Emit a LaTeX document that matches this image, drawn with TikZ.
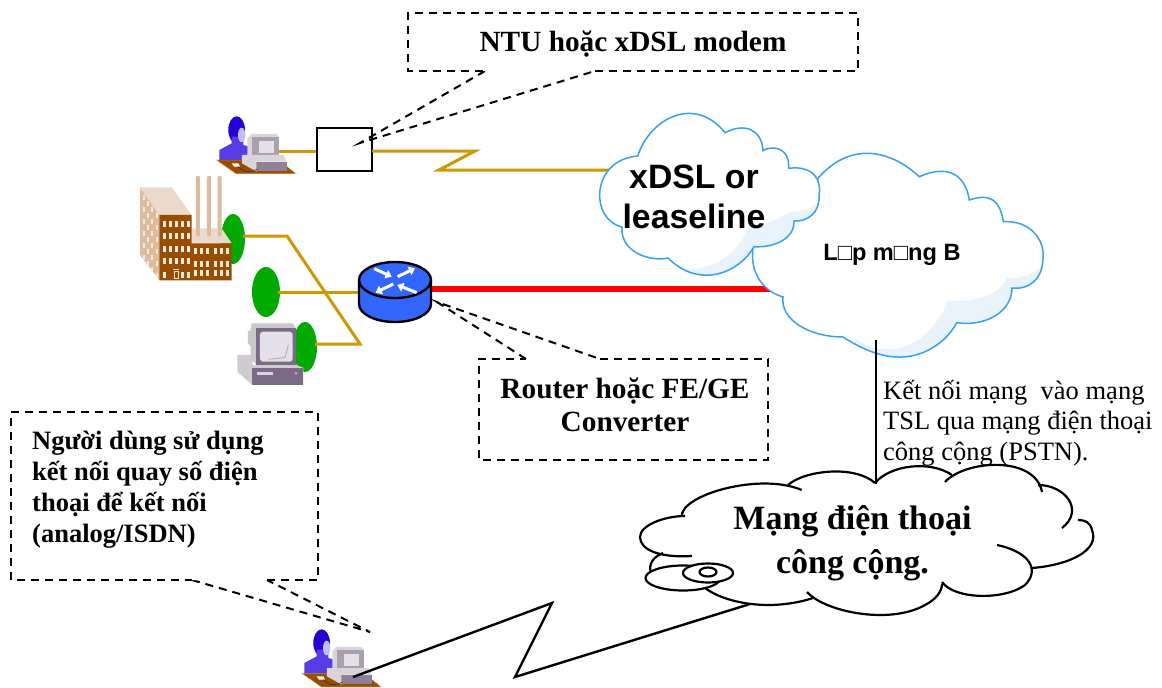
\documentclass[tikz,border=0pt]{standalone}
\usepackage{fontspec}
\setmainfont{Liberation Serif}
\newfontfamily\arialf{Liberation Sans}
\usetikzlibrary{arrows.meta,shapes.geometric}
\definecolor{goldline}{HTML}{CC9900}
\definecolor{cloudblue}{HTML}{33A1F5}
\definecolor{cloudshade}{HTML}{E8F3FB}
\definecolor{greenblob}{HTML}{00AA00}
\definecolor{routerblue}{HTML}{3366FF}
\definecolor{deskbrown}{HTML}{994D00}
\definecolor{tanlight}{HTML}{EBDACB}
\definecolor{tandark}{HTML}{DDBB9E}
\definecolor{cream}{HTML}{F3E8DA}
\definecolor{pcdark}{HTML}{7A6A85}
\definecolor{pcmid}{HTML}{A8A0AC}
\definecolor{pclight}{HTML}{D8D4DA}
\definecolor{pcscreen}{HTML}{E4E0E8}
\tikzset{
  goldwire/.style={goldline,line width=3pt,line join=miter},
  calloutbox/.style={draw=black,fill=white,line width=2pt,dash pattern=on 8pt off 6pt},
  cloudedge/.style={draw=cloudblue,line width=1.5pt},
  phonearc/.style={draw=black,line width=2.2pt},
  blackwire/.style={black,line width=2.4pt},
  greenblob/.style={fill=greenblob,draw=none,ellipse,inner sep=0pt},
  notebold/.style={font=\bfseries\fontsize{29.3}{33}\selectfont,align=center,inner sep=0pt},
  pics/usericon/.style={code={
    \begin{scope}[x=0.3333pt,y=-0.3333pt]
      \fill[deskbrown,draw=tanlight,line width=.5pt] (258,180)--(345,180)--(470,198)--(500,222)--(318,222)--cycle;
      \fill[black!0!blue!70!violet] (320,90) ellipse [x radius=25,y radius=41];
      \fill[blue!70!white!80!violet] (268,180)--(268,150)--(305,130)--(305,110)--(340,110)--(340,135)--(358,140)--(358,180)--cycle;
      \fill[blue!25!white] (335,105) ellipse [x radius=11,y radius=22];
      \fill[pclight] (365,102)--(440,102)--(446,112)--(446,170)--(352,170)--(352,115)--cycle;
      \fill[pcmid] (366,112)--(446,112)--(446,166)--(366,166)--cycle;
      \fill[pcscreen] (388,122)--(432,122)--(432,160)--(388,160)--cycle;
      \fill[pclight] (336,165)--(460,165)--(470,185)--(380,185)--(380,215)--(336,190)--cycle;
      \fill[pcdark!85!white] (380,185)--(470,185)--(470,214)--(380,214)--cycle;
      \fill[white] (305,190)--(325,190)--(330,200)--(312,200)--cycle;
      \draw[black!80,line width=.6pt] (325,200) .. controls (345,222) and (370,215) .. (383,207);
    \end{scope}}},
  pics/factoryicon/.style={code={
    \begin{scope}[x=0.3333pt,y=-0.3333pt]
      \fill[tandark] (30,262)--(88,345)--(88,540)--(30,465)--cycle;
      \foreach \c in {0,1,2,3}{\foreach \r in {0,...,5}{
        \fill[cream] ({38+\c*13},{285+\c*18+\r*36}) rectangle ++(6,16);}}
      \fill[tanlight] (30,262)--(125,262)--(185,345)--(88,345)--cycle;
      \fill[tanlight] (185,385)--(275,385)--(305,430)--(185,430)--cycle;
      \foreach \c in {198,231,263}{
        \fill[tandark,rounded corners=2pt] (\c,227) rectangle ++(12,183);}
      \fill[deskbrown] (88,345)--(185,345)--(185,430)--(305,430)--(305,541)--(88,541)--cycle;
      \foreach \c in {98,116,134,152,170}{\foreach \r in {363,400,438,475}{
        \fill[cream] (\c,\r) rectangle ++(9,18);}}
      \foreach \c in {98,152,170}{\fill[cream] (\c,515) rectangle ++(9,18);}
      \draw[cream,line width=.8pt] (130,509)--(146,509) (132,514) rectangle (144,536);
      \foreach \c in {192,210,228,253,271,289}{\foreach \r in {444,482,510}{
        \fill[cream] (\c,\r) rectangle ++(9,18);}}
    \end{scope}}},
  pics/desktopicon/.style={code={
    \begin{scope}[x=0.3333pt,y=-0.3333pt]
      \fill[pclight!90!gray] (322,765)--(368,765)--(368,795)--(500,795)--(520,803)--(520,855)--(367,855)--(322,815)--cycle;
      \fill[pcdark] (367,803)--(520,803)--(520,855)--(367,855)--cycle;
      \fill[pclight] (382,817) rectangle (430,825);
      \fill[pclight] (498,820) circle (3.5);
      \fill[pclight!85!gray] (365,670)--(488,670)--(498,685)--(380,685)--(380,795)--(362,775)--(362,740)--(354,730)--(354,695)--(362,690)--cycle;
      \fill[pcdark] (378,685) rectangle (499,796);
      \fill[pcscreen,rounded corners=3pt] (390,695) rectangle (488,785);
      \draw[pcdark!60!white,line width=.8pt] (415,778)--(465,773)--(475,735);
    \end{scope}}},
  pics/routerarrows/.style={code={
    \begin{scope}[x=0.3333pt,y=-0.3333pt]
      \draw[white,line width=3pt,-{Triangle[length=6pt,width=9pt]}] (733,506)--(785,530);
      \draw[white,line width=3pt,-{Triangle[length=6pt,width=9pt]}] (803,530)--(855,505);
      \draw[white,line width=3pt,-{Triangle[length=6pt,width=9pt]}] (790,552)--(737,578);
      \draw[white,line width=3pt,-{Triangle[length=6pt,width=9pt]}] (860,578)--(802,555);
    \end{scope}}}
}
\begin{document}
\begin{tikzpicture}[x=1pt,y=-1pt]
\useasboundingbox (0,0) rectangle (1162,688);
\fill[white] (0,0) rectangle (1162,688);

% named anchors of the devices
\node[draw=black,fill=white,line width=2pt,minimum width=55pt,minimum height=43pt,inner sep=0pt] (ntubox) at (344.5,149.5) {};
\coordinate (pcone) at (278,151);
\coordinate (ntuout) at (372,151);
\coordinate (zigA) at (475,151);
\coordinate (zigB) at (439,170);
\coordinate (xdslin) at (612,170);
\coordinate (blobA) at (243,236);
\coordinate (bendA) at (287,236);
\coordinate (bendB) at (360,344);
\coordinate (blobC) at (315,344);
\coordinate (blobB) at (278,292);
\coordinate (routerL) at (361,292);
\coordinate (routerR) at (430,289);
\coordinate (cloudL) at (775,289);
\coordinate (vtop) at (876,340);
\coordinate (vbot) at (876,484);
\coordinate (pcthree) at (353,677);
\coordinate (zigC) at (552,603);
\coordinate (zigD) at (515,677);
\coordinate (phonein) at (750,604);

% green blobs and wires behind the devices
\node[greenblob,minimum width=24pt,minimum height=50pt] (gA) at (233,239) {};
\node[greenblob,minimum width=28pt,minimum height=50pt] (gB) at (266,292) {};
\node[greenblob,minimum width=24pt,minimum height=50pt] (gC) at (305,347) {};
\draw[goldwire] (pcone) -- (ntubox.west |- pcone);
\draw[goldwire] (ntuout) -- (zigA) -- (zigB) -- (xdslin);
\draw[goldwire] (blobA) -- (bendA) -- (bendB) -- (blobC);
\draw[goldwire] (blobB) -- (routerL);
\draw[red,line width=6pt] (routerR) -- (cloudL);

% icons
\pic at (130,100) {usericon};
\pic at (215,613) {usericon};
\pic at (130,100) {factoryicon};
\pic at (130,100) {desktopicon};

% router
\fill[routerblue] (359,280) -- (359,304) arc[start angle=180,end angle=360,x radius=36,y radius=-18] -- (431,280) -- cycle;
\draw[black,line width=2.4pt] (359,280) -- (359,304) arc[start angle=180,end angle=360,x radius=36,y radius=-18] -- (431,280);
\draw[black,fill=routerblue,line width=2.4pt] (395,280) ellipse [x radius=36,y radius=18];
\pic at (130,100) {routerarrows};

% cloud B
\def\cloudB{(816.7,180) .. controls (845,145) and (885,145) .. (919.3,176.7)
  .. controls (945,165) and (965,172) .. (969.3,200)
  .. controls (990,193) and (1000,200) .. (1003.3,221.7)
  .. controls (1030,220) and (1045,240) .. (1043,258)
  .. controls (1043,278) and (1030,290) .. (1012,288)
  .. controls (1012,312) and (985,327) .. (956.7,322.7)
  .. controls (945,345) and (920,358) .. (898,357)
  .. controls (880,357) and (860,348) .. (843,337)
  .. controls (810,337) and (780,320) .. (783,297)
  .. controls (760,290) and (750,270) .. (753,247)
  .. controls (775,240) and (800,215) .. (816.7,180) -- cycle}
\fill[white] \cloudB;
\begin{scope}
  \clip \cloudB;
  \fill[cloudshade] (1048,258) .. controls (1040,272) and (1022,280) .. (1007,278)
    .. controls (1000,295) and (975,303) .. (948,300.7)
    .. controls (935,335) and (905,352) .. (887,349)
    .. controls (875,350) and (865,346) .. (855,338) -- (855,370) -- (1050,370) -- cycle;
\end{scope}
\draw[cloudedge] \cloudB;

% cloud xDSL
\def\cloudA{(637.7,156) .. controls (650,118) and (695,95) .. (725,132.7)
  .. controls (745,122) and (762,130) .. (763,150.7)
  .. controls (772,145) and (790,147) .. (788.7,168.3)
  .. controls (815,165) and (822,182) .. (819,196)
  .. controls (820,212) and (808,222) .. (794,221)
  .. controls (795,238) and (775,248) .. (754,246.7)
  .. controls (740,272) and (700,290) .. (668,258)
  .. controls (650,262) and (620,252) .. (622,227)
  .. controls (590,220) and (590,160) .. (637.7,156) -- cycle}
\fill[white] \cloudA;
\begin{scope}
  \clip \cloudA;
  \fill[cloudshade] (825,198) .. controls (810,210) and (800,212) .. (790,212)
    .. controls (770,225) and (755,225) .. (747,230)
    .. controls (735,255) and (715,272) .. (680,268) -- (680,300) -- (830,300) -- cycle;
\end{scope}
\draw[cloudedge] \cloudA;
\node[font=\arialf\bfseries\fontsize{33.8}{40}\selectfont,align=center,inner sep=0pt] (xdslt) at (694,197) {xDSL or\\leaseline};
\node[font=\arialf\bfseries\fontsize{23.6}{28}\selectfont,inner sep=0pt] (cloudBt) at (892,255) {L□p m□ng B};

% telephone cloud
\draw[phonearc,fill=white] (663,553) .. controls (650,558) and (648,568) .. (652,575);
\draw[phonearc] (705,588) .. controls (725,603) and (770,612) .. (813,598);
\draw[phonearc] (807,592) .. controls (825,612) and (890,625) .. (925,605) .. controls (935,600) and (942,592) .. (942,584);
\draw[phonearc] (997,545) .. controls (1030,552) and (1040,570) .. (1025,585) .. controls (1005,600) and (955,600) .. (942,582);
\draw[phonearc] (1032,568) .. controls (1070,565) and (1100,550) .. (1092,530) .. controls (1090,522) and (1085,520) .. (1078,520);
\draw[phonearc] (1038,485) .. controls (1065,485) and (1085,510) .. (1062,528);
\draw[phonearc] (945,482) .. controls (965,460) and (1035,455) .. (1042,492);
\draw[phonearc] (875,483) .. controls (890,465) and (930,460) .. (952,475);
\draw[phonearc] (788,485) .. controls (805,470) and (855,465) .. (875,483);
\draw[phonearc] (681.7,516.7) .. controls (680,495) and (760,472) .. (801.7,490);
\draw[phonearc] (692,556) .. controls (660,558) and (640,550) .. (640,537) .. controls (640,525) and (665,516) .. (685,516);
\draw[phonearc,fill=white] (683,578) ellipse [x radius=37.5,y radius=12.5];
\draw[phonearc,fill=white] (708,573) ellipse [x radius=25,y radius=9.5];
\draw[phonearc] (708,572) ellipse [x radius=8.5,y radius=4.5];
\node[font=\bfseries\fontsize{34}{44}\selectfont,align=center,inner sep=0pt] (phonet) at (852.5,543) {Mạng điện thoại\\công cộng.};

\draw[blackwire] (vtop) -- (vbot);
\draw[blackwire,line join=miter] (pcthree) -- (zigC) -- (zigD) -- (phonein);

% callouts
\coordinate (ntuTip) at (360,143);
\coordinate (rtTip) at (437,302);
\coordinate (usrTip) at (370,632);
\draw[calloutbox,fill=none] (485,71) -- (ntuTip) -- (595,71);
\draw[calloutbox] (595,71) -- (858,71) -- (858,13) -- (408,13) -- (408,71) -- (485,71);
\draw[calloutbox,fill=none] (526,359) -- (rtTip) -- (600,359);
\draw[calloutbox] (600,359) -- (768,359) -- (768,460) -- (479,460) -- (479,359) -- (526,359);
\draw[calloutbox,fill=none] (192,580) -- (usrTip) -- (267,580);
\draw[calloutbox] (267,580) -- (318,580) -- (318,412) -- (11,412) -- (11,580) -- (192,580);
\node[notebold] (ntut) at (633,44) {NTU hoặc xDSL modem};
\node[notebold] (rtt) at (625,405) {Router hoặc FE/GE\\Converter};
\node[notebold,anchor=north west,align=left,font=\bfseries\fontsize{26.5}{30.9}\selectfont] (usrt) at (32,431) {Người dùng sử dụng\\kết nối quay số điện\\thoại để kết nối\\(analog/ISDN)};
\node[anchor=north west,align=left,inner sep=0pt,font=\fontsize{26.5}{30.5}\selectfont] (tslt) at (883,380) {Kết nối mạng\ \ vào mạng\\TSL qua mạng điện thoại\\công cộng (PSTN).};
\end{tikzpicture}
\end{document}
